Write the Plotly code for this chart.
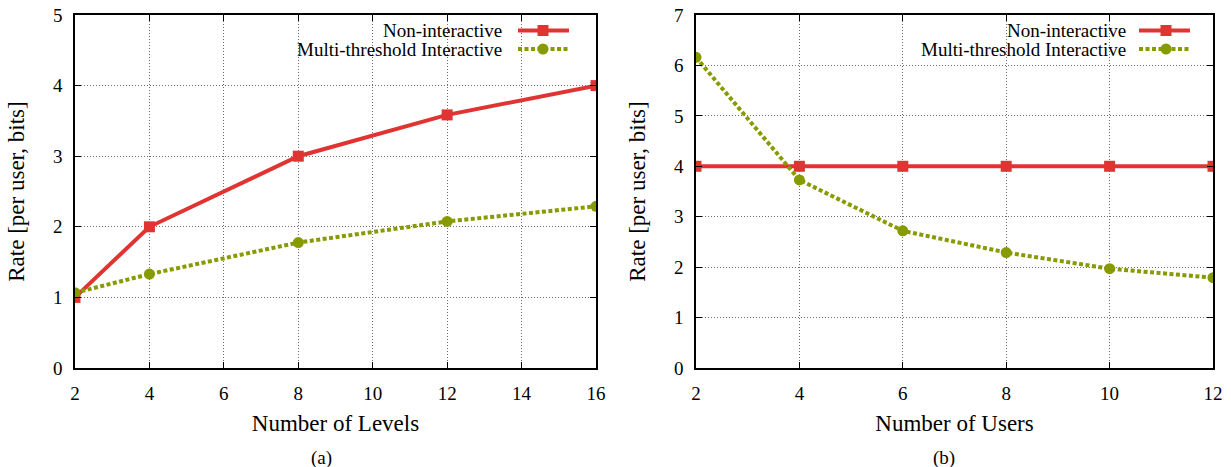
import plotly.graph_objects as go

# ---- data ----
levels = [2, 4, 8, 12, 16]
levels_nonint = [1.0, 2.0, 3.0, 3.585, 4.0]
levels_multi = [1.066, 1.33, 1.777, 2.076, 2.29]

users = [2, 4, 6, 8, 10, 12]
users_nonint = [4.0, 4.0, 4.0, 4.0, 4.0, 4.0]
users_multi = [6.16, 3.73, 2.72, 2.29, 1.97, 1.79]

series_names = ["Non-interactive", "Multi-threshold Interactive"]
panel_labels = ["(a)", "(b)"]
x_titles = ["Number of Levels", "Number of Users"]
y_title = "Rate [per user, bits]"

# ---- style ----
W, H = 1231, 467
RED = "#df3431"
GREEN = "#879a00"
FONT = "Liberation Serif"
FS = 19


def px(x):
    return x / W


def py(y):
    return 1 - y / H


fig = go.Figure()

fig.add_trace(go.Scatter(x=levels, y=levels_nonint, mode="lines+markers",
                         line=dict(color=RED, width=4),
                         marker=dict(symbol="square", size=11, color=RED),
                         xaxis="x", yaxis="y", showlegend=False))
fig.add_trace(go.Scatter(x=levels, y=levels_multi, mode="lines+markers",
                         line=dict(color=GREEN, width=4, dash="4px,2.5px"),
                         marker=dict(symbol="circle", size=11, color=GREEN),
                         xaxis="x", yaxis="y", showlegend=False))
fig.add_trace(go.Scatter(x=users, y=users_nonint, mode="lines+markers",
                         line=dict(color=RED, width=4),
                         marker=dict(symbol="square", size=11, color=RED),
                         xaxis="x2", yaxis="y2", showlegend=False))
fig.add_trace(go.Scatter(x=users, y=users_multi, mode="lines+markers",
                         line=dict(color=GREEN, width=4, dash="4px,2.5px"),
                         marker=dict(symbol="circle", size=11, color=GREEN),
                         xaxis="x2", yaxis="y2", showlegend=False))

plot_top, plot_bot = 15, 368

axis_common = dict(
    showline=True, linecolor="black", linewidth=1.5, mirror="allticks",
    ticks="inside", ticklen=6, tickwidth=1, tickcolor="black",
    showgrid=True, gridcolor="#6e6e6e", gridwidth=1, griddash="1px,2px",
    zeroline=False, tickfont=dict(family=FONT, size=FS, color="black"),
    ticklabelstandoff=7, automargin=False,
)

fig.update_layout(
    width=W, height=H, margin=dict(l=0, r=0, t=0, b=0),
    plot_bgcolor="white", paper_bgcolor="white",
    font=dict(family=FONT, size=FS, color="black"),
    xaxis=dict(domain=[px(75), px(596)], range=[2, 16], tickvals=[2, 4, 6, 8, 10, 12, 14, 16],
               anchor="y", title=dict(text=x_titles[0], standoff=12), **axis_common),
    yaxis=dict(domain=[py(plot_bot), py(plot_top)], range=[0, 5], dtick=1,
               anchor="x", title=dict(text=y_title, standoff=22), **axis_common),
    xaxis2=dict(domain=[px(696), px(1213)], range=[2, 12], tickvals=[2, 4, 6, 8, 10, 12],
                anchor="y2", title=dict(text=x_titles[1], standoff=12), **axis_common),
    yaxis2=dict(domain=[py(plot_bot), py(plot_top)], range=[0, 7], dtick=1,
                anchor="x2", title=dict(text=y_title, standoff=22), **axis_common),
)

# ---- custom legends (text on the left, sample on the right, gnuplot style) ----
legend_specs = [
    dict(text_right=504, s0=518, s1=569, mk=543, box_left=278, plot_right=596),
    dict(text_right=1128, s0=1139, s1=1190, mk=1166, box_left=900, plot_right=1213),
]
rows = [30.5, 49]
shapes = []
annotations = []
for spec in legend_specs:
    shapes.append(dict(type="rect", xref="paper", yref="paper",
                       x0=px(spec["box_left"]), x1=px(spec["plot_right"] - 1),
                       y0=py(62), y1=py(plot_top + 1),
                       fillcolor="white", line=dict(width=0), layer="between"))
    for i, (name, row) in enumerate(zip(series_names, rows)):
        annotations.append(dict(xref="paper", yref="paper", x=px(spec["text_right"]), y=py(row),
                                xanchor="right", yanchor="middle", showarrow=False,
                                text=name, font=dict(family=FONT, size=FS, color="black")))
        color = RED if i == 0 else GREEN
        shapes.append(dict(type="line", xref="paper", yref="paper",
                           x0=px(spec["s0"]), x1=px(spec["s1"]), y0=py(row), y1=py(row),
                           line=dict(color=color, width=4, dash="solid" if i == 0 else "4px,2.5px"),
                           layer="above"))
        r = 5.5
        shapes.append(dict(type="rect" if i == 0 else "circle", xref="paper", yref="paper",
                           x0=px(spec["mk"] - r), x1=px(spec["mk"] + r),
                           y0=py(row + r), y1=py(row - r),
                           fillcolor=color, line=dict(width=0), layer="above"))

for lab, xc in zip(panel_labels, [321, 944]):
    annotations.append(dict(xref="paper", yref="paper", x=px(xc), y=py(458),
                            xanchor="center", yanchor="middle", showarrow=False,
                            text=lab, font=dict(family=FONT, size=FS, color="black")))

fig.update_layout(shapes=shapes, annotations=annotations)

fig.write_html("out.html", config={"displayModeBar": False},
               post_script="document.body.style.margin='0px';document.body.style.overflow='hidden';")
